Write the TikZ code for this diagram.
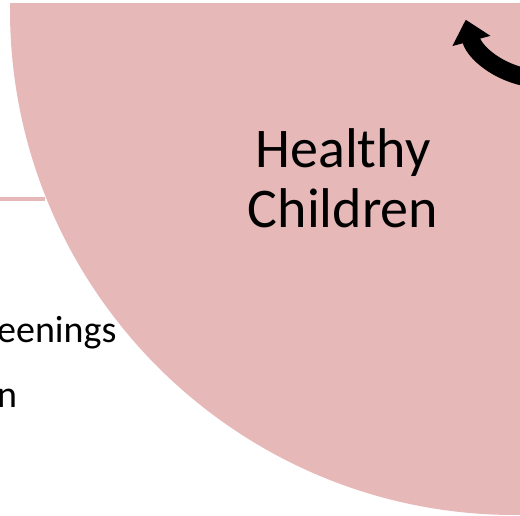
\documentclass[tikz,border=0pt]{standalone}
\usepackage{fontspec}
\setmainfont{Carlito}
\usetikzlibrary{arrows.meta}
\definecolor{rosefill}{RGB}{230,184,183}

\begin{document}
\begin{tikzpicture}[x=1pt,y=1pt]
\useasboundingbox (0,0) rectangle (520,515);

\begin{scope}
\clip (0,0) rectangle (520,511);
\coordinate (oc) at (515,505);
\draw[rosefill,line width=4pt] (0,315.5) -- (45,315.5);
\fill[rosefill] (oc) circle (505);
\end{scope}

\begin{scope}
\clip (0,0) rectangle (520,515);
\coordinate (oa) at (543,516);
\draw[line width=18pt,-{Triangle[width=38pt,length=22pt]}] ([shift={(272:80)}]oa) arc (272:195:80);
\end{scope}

\node[font=\fontsize{56}{60}\selectfont,align=center,anchor=base] (hc) at (343,287) {Healthy\\Children};
\node[font=\fontsize{38}{65}\selectfont,align=left,anchor=base west,inner sep=0pt] (sc) at (-3,108) {eenings\\n};
\end{tikzpicture}
\end{document}
